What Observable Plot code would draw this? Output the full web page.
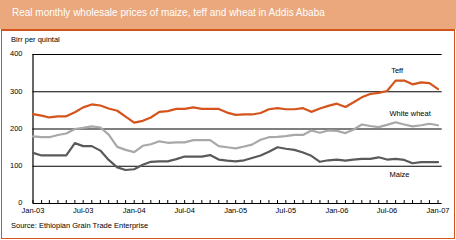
<!DOCTYPE html>
<html>
<head>
<meta charset="utf-8">
<script src="https://cdn.jsdelivr.net/npm/d3@7"></script>
<script src="https://cdn.jsdelivr.net/npm/@observablehq/plot@0.6"></script>
<style>
  html, body { margin: 0; padding: 0; background: #fff; }
  #wrap { position: relative; width: 456px; height: 240px; overflow: hidden; font-family: "Liberation Sans", Arial, sans-serif; }
  #header { position: absolute; left: 0; top: 0; width: 456px; height: 29px; background: #EAA87C; }
  #title { position: absolute; left: 12px; top: 7px; color: #fff; font-size: 10px; white-space: nowrap; }
  #frame { position: absolute; left: 1px; top: 29px; width: 452px; height: 207px; border: 1px solid #D4541C; border-top-width: 2px; box-sizing: content-box; }
  #unit { position: absolute; left: 11px; top: 35px; font-size: 7.5px; color: #000; white-space: nowrap; }
  #source { position: absolute; left: 11px; top: 221px; font-size: 7.5px; color: #000; white-space: nowrap; }
  #chart { position: absolute; left: 0; top: 30px; }
</style>
</head>
<body>
<div id="wrap">
  <div id="header"><div id="title">Real monthly wholesale prices of maize, teff and wheat in Addis Ababa</div></div>
  <div id="frame"></div>
  <div id="unit">Birr per quintal</div>
  <div id="chart"></div>
  <div id="source">Source: Ethiopian Grain Trade Enterprise</div>
</div>
<script>
const months = d3.utcMonth.range(new Date(Date.UTC(2003, 0, 1)), new Date(Date.UTC(2007, 1, 1)));

const teff = [240,236,231,234,234,245,258,266,263,255,249,233,217,
              222,231,246,248,254,254,258,254,254,254,244,238,
              239,239,243,253,256,253,253,256,246,255,262,268,
              259,271,285,294,297,302,330,330,320,325,323,307];
const wheat = [180,178,178,184,188,200,203,207,204,185,152,144,138,
               155,159,167,163,164,164,170,170,170,154,151,148,
               153,158,171,178,179,181,184,184,196,190,196,195,
               189,198,212,208,205,211,218,212,207,210,214,210];
const maize = [136,129,129,129,129,162,154,154,142,117,97,90,92,
               104,112,113,113,119,126,126,126,130,118,115,113,
               116,122,129,139,151,147,144,137,128,112,116,118,
               115,118,120,120,124,118,120,117,108,111,111,111];

const seriesNames = ["Teff", "White wheat", "Maize"];
const seriesColors = ["#D4541C", "#A8A8A8", "#5A5A5A"];
const yTicks = [0, 100, 200, 300, 400];
const labelTicks = d3.utcMonth.every(6).range(months[0], new Date(Date.UTC(2007, 1, 1)));

const rows = [];
[teff, wheat, maize].forEach((vals, k) => {
  vals.forEach((v, i) => rows.push({date: months[i], value: v, series: seriesNames[k]}));
});

const labels = [
  {date: new Date(Date.UTC(2006, 6, 16)), value: 357, text: "Teff"},
  {date: new Date(Date.UTC(2006, 6, 10)), value: 242, text: "White wheat"},
  {date: new Date(Date.UTC(2006, 6, 10)), value: 78, text: "Maize"}
];

const xStart = months[0];
const xEnd = new Date(Date.UTC(2007, 0, 16));

const chart = Plot.plot({
  width: 456,
  height: 200,
  marginTop: 24,
  marginBottom: 27,
  marginLeft: 32.5,
  marginRight: 14.3,
  style: {fontFamily: "Liberation Sans, Arial, sans-serif", fontSize: "7.5px", color: "#000", background: "transparent"},
  x: {type: "utc", domain: [xStart, xEnd], label: null},
  y: {domain: [0, 400], label: null},
  color: {domain: seriesNames, range: seriesColors},
  marks: [
    Plot.ruleY(yTicks, {x1: xStart, x2: xEnd, stroke: "#000", strokeWidth: 1.2}),
    Plot.ruleX([xStart], {y1: 0, y2: 400, stroke: "#000", strokeWidth: 1.2}),
    Plot.ruleX(months, {y1: 0, y2: 8, stroke: "#000", strokeWidth: 1}),
    Plot.axisY({ticks: yTicks, tickSize: 0, tickPadding: 10.5, fontSize: 7.5, label: null, dy: -0.5}),
    Plot.axisX({ticks: labelTicks, tickSize: 0, tickPadding: 4.5, tickFormat: d3.utcFormat("%b-%y"), fontSize: 7.5, label: null}),
    Plot.line(rows, {x: "date", y: "value", z: "series", stroke: "series", strokeWidth: 2.2, curve: "linear"}),
    Plot.text(labels, {x: "date", y: "value", text: "text", textAnchor: "start", fill: "#000", fontSize: 7.5})
  ]
});
document.getElementById("chart").appendChild(chart);
</script>
</body>
</html>
